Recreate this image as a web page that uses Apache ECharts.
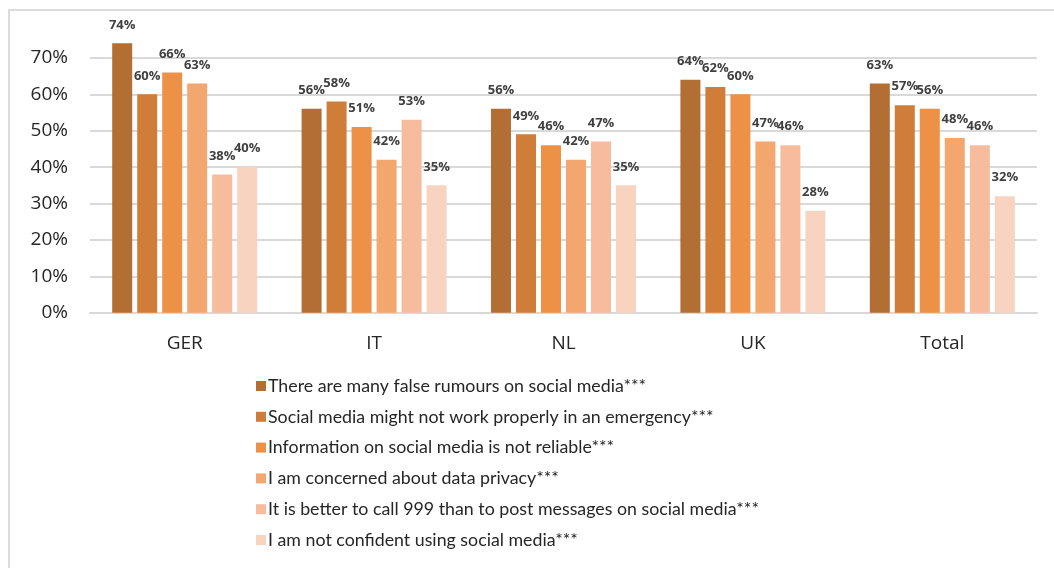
<!DOCTYPE html>
<html lang="en">
<head>
    <meta charset="UTF-8">
    <title>Reasons for not using social media in an emergency</title>
    <script src="https://cdn.jsdelivr.net/npm/echarts@6/dist/echarts.min.js"></script>
    <style>
        html, body { margin: 0; padding: 0; background: #fff; }
        #frame { position: absolute; left: 8px; top: 9px; width: 1046px; height: 559px;
                 border-left: 2px solid #dcdcdc; border-top: 2px solid #dcdcdc; }
        #chart { position: absolute; left: 0; top: 0; width: 1054px; height: 568px; }
    </style>
</head>
<body>
    <div id="frame"></div>
    <div id="chart"></div>

    <script>
        const countries = ['GER', 'IT', 'NL', 'UK', 'Total'];
        const reasons = [
            'There are many false rumours on social media***',
            'Social media might not work properly in an emergency***',
            'Information on social media is not reliable***',
            'I am concerned about data privacy***',
            'It is better to call 999 than to post messages on social media***',
            'I am not confident using social media***'
        ];
        const falseRumours   = [0.74, 0.56, 0.56, 0.64, 0.63];
        const notWorking     = [0.60, 0.58, 0.49, 0.62, 0.57];
        const notReliable    = [0.66, 0.51, 0.46, 0.60, 0.56];
        const dataPrivacy    = [0.63, 0.42, 0.42, 0.47, 0.48];
        const better999      = [0.38, 0.53, 0.47, 0.46, 0.46];
        const notConfident   = [0.40, 0.35, 0.35, 0.28, 0.32];
        const seriesValues = [falseRumours, notWorking, notReliable, dataPrivacy, better999, notConfident];
        const colors = ['#b36e33', '#d17d3a', '#ec9145', '#f4a66f', '#f7bc9e', '#f8d3c0'];

        const pct = v => Math.round(v * 100) + '%';

        const chart = echarts.init(document.getElementById('chart'));
        chart.setOption({
            animation: false,
            color: colors,
            grid: { left: 90, right: 17, top: 21.5, bottom: 255.3, containLabel: false },
            legend: {
                orient: 'vertical',
                left: 251,
                top: 371,
                height: 195,
                icon: 'rect',
                itemWidth: 10,
                itemHeight: 10,
                itemGap: 10.8,
                textStyle: { fontFamily: 'Lato', fontSize: 17.8, lineHeight: 20, color: '#262626', padding: [0, 0, 0, -3] },
                data: reasons
            },
            xAxis: {
                type: 'category',
                data: countries,
                axisLine: { show: true, lineStyle: { color: '#d9d9d9', width: 2 } },
                axisTick: { show: false },
                axisLabel: { fontFamily: 'Open Sans', fontSize: 19, color: '#262626', margin: 21 }
            },
            yAxis: {
                type: 'value',
                min: 0,
                max: 0.8,
                interval: 0.1,
                axisLine: { show: false },
                axisTick: { show: false },
                axisLabel: {
                    fontFamily: 'Open Sans', fontSize: 19, color: '#262626', margin: 22,
                    showMaxLabel: false,
                    formatter: v => v >= 0.79 ? '' : pct(v)
                },
                splitLine: { showMaxLine: false, lineStyle: { color: '#d9d9d9', width: 2 } }
            },
            series: seriesValues.map((vals, i) => ({
                name: reasons[i],
                type: 'bar',
                data: vals,
                barWidth: 20,
                barGap: '25%',
                label: {
                    show: true,
                    position: 'top',
                    distance: 12,
                    formatter: p => pct(p.value),
                    fontFamily: 'Open Sans',
                    fontWeight: 'bold',
                    fontSize: 13,
                    color: '#404040'
                }
            }))
        });
    </script>
</body>
</html>
